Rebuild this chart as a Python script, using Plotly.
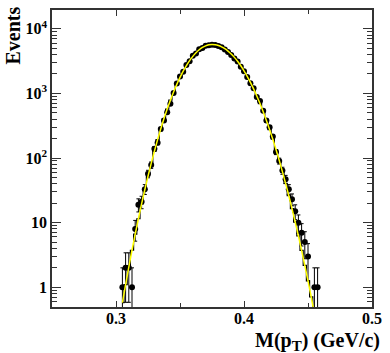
import numpy as np
import plotly.graph_objects as go

# measured data: bin centres (GeV/c) and event counts
data_x = [0.305, 0.3075, 0.31, 0.3125, 0.315, 0.3175, 0.32, 0.3225, 0.325, 0.3275,
          0.33, 0.3325, 0.335, 0.3375, 0.34, 0.3425, 0.345, 0.3475, 0.35, 0.3525,
          0.355, 0.3575, 0.36, 0.3625, 0.365, 0.3675, 0.37, 0.3725, 0.375, 0.3775,
          0.38, 0.3825, 0.385, 0.3875, 0.39, 0.3925, 0.395, 0.3975, 0.40, 0.4025,
          0.405, 0.4075, 0.41, 0.4125, 0.415, 0.4175, 0.42, 0.4225, 0.425, 0.4275,
          0.43, 0.4325, 0.435, 0.4375, 0.44, 0.4425, 0.445, 0.4475, 0.45, 0.455,
          0.4575]
data_n = [1, 2, 2, 1, 8, 19, 21, 33, 57, 78,
          139, 173, 280, 380, 510, 690, 1010, 1420, 1830, 2160,
          2760, 3150, 3820, 4150, 4820, 5050, 5480, 5560, 5650, 5600,
          5420, 5150, 4760, 4380, 3920, 3450, 3120, 2580, 2200, 1800,
          1440, 1200, 880, 760, 540, 380, 300, 215, 124, 90,
          64, 47, 33, 23, 15, 10, 7, 5, 3, 1,
          1]

# fitted shape (yellow curve and black histogram)
fit_x = [0.305, 0.3075, 0.31, 0.3125, 0.315, 0.3175, 0.32, 0.3225, 0.325, 0.3275,
         0.33, 0.3325, 0.335, 0.3375, 0.34, 0.3425, 0.345, 0.3475, 0.35, 0.3525,
         0.355, 0.3575, 0.36, 0.3625, 0.365, 0.3675, 0.37, 0.3725, 0.375, 0.3775,
         0.38, 0.3825, 0.385, 0.3875, 0.39, 0.3925, 0.395, 0.3975, 0.40, 0.4025,
         0.405, 0.4075, 0.41, 0.4125, 0.415, 0.4175, 0.42, 0.4225, 0.425, 0.4275,
         0.43, 0.4325, 0.435, 0.4375, 0.44, 0.4425, 0.445, 0.4475, 0.45, 0.4525,
         0.455]
fit_n = [0.58, 1.10, 2.05, 3.74, 6.64, 11.5, 19.5, 32.3, 52.3, 82.6,
         127.5, 192.2, 283.1, 407.3, 572.3, 785.6, 1053, 1380, 1765, 2205,
         2692, 3209, 3738, 4253, 4725, 5131, 5441, 5635, 5702, 5648,
         5494, 5242, 4909, 4512, 4072, 3605, 3133, 2673, 2237, 1838,
         1483, 1173, 912, 695, 520, 382, 275, 195, 135, 92.1,
         61.6, 40.5, 26.1, 16.5, 10.2, 6.23, 3.72, 2.18, 1.26, 0.71,
         0.39]

y_tickvals = [1, 10, 100, 1000, 10000]
y_ticktext = ["1", "10", "10<sup>2</sup>", "10<sup>3</sup>", "10<sup>4</sup>"]

serif = "Liberation Serif, Times New Roman, DejaVu Serif, serif"

n = np.array(data_n, dtype=float)
err_up = np.sqrt(n)
err_dn = np.minimum(np.sqrt(n), n - 0.01)  # keep lower end positive on log axis

fig = go.Figure()

fig.add_trace(go.Scatter(x=fit_x, y=fit_n, mode="lines", line_shape="hvh",
                         line=dict(color="black", width=1.2), hoverinfo="skip"))

fig.add_trace(go.Scatter(
    x=data_x, y=data_n, mode="markers",
    marker=dict(color="black", size=6),
    error_y=dict(type="data", array=err_up, arrayminus=err_dn,
                 color="black", thickness=1, width=2),
))

fig.add_trace(go.Scatter(x=fit_x, y=fit_n, mode="lines", line_shape="spline",
                         line=dict(color="#ffff00", width=1.5), hoverinfo="skip"))

fig.update_layout(
    width=390, height=353,
    margin=dict(l=52, r=13, t=8, b=46),
    paper_bgcolor="white", plot_bgcolor="white",
    showlegend=False,
    font=dict(family=serif, color="black"),
)

fig.update_xaxes(
    range=[0.25, 0.5], tick0=0.3, dtick=0.1, tickformat=".1f",
    ticks="inside", ticklen=6, tickcolor="#333", showgrid=False, zeroline=False,
    showline=True, linecolor="#333", linewidth=1.5, mirror="allticks",
    ticklabelstandoff=-4,
    tickfont=dict(family=serif, size=16, color="black", weight="bold"),
    minor=dict(ticks="inside", ticklen=4, dtick=0.05, tick0=0.25, tickcolor="#333", showgrid=False),
)

fig.update_yaxes(
    type="log", range=[-0.305, 4.29],
    tickmode="array", tickvals=y_tickvals, ticktext=y_ticktext,
    ticks="inside", ticklen=9, tickcolor="#333", showgrid=False, zeroline=False,
    showline=True, linecolor="#333", linewidth=1.5, mirror="allticks",
    tickfont=dict(family=serif, size=16, color="black", weight="bold"),
    minor=dict(ticks="inside", ticklen=5, tickcolor="#333", showgrid=False,
               tickvals=[m * 10 ** e for e in range(-1, 5) for m in range(2, 10)]),
)

fig.add_annotation(text="Events", xref="paper", yref="paper", x=-0.123, y=0.913,
                   textangle=-90, showarrow=False, xanchor="center", yanchor="middle",
                   font=dict(family=serif, size=20, color="black", weight="bold"))
fig.add_annotation(text="M(p<sub><span style='font-size:15px'>T</span></sub>) (GeV/c)",
                   xref="paper", yref="paper",
                   x=1.03, y=-0.068, showarrow=False, xanchor="right", yanchor="top",
                   font=dict(family=serif, size=20, color="black", weight="bold"))

# drop the default page margin so the figure sits at the window's corner
fig.write_html("out.html", config={"displayModeBar": False},
               post_script="document.body.style.margin='0';")
